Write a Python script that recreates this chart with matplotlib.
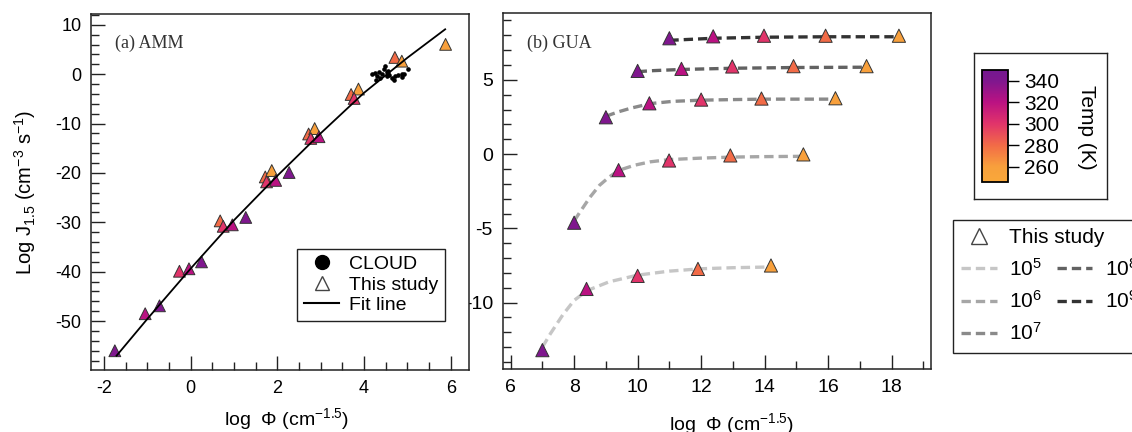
import matplotlib
matplotlib.use('Agg')
import matplotlib.pyplot as plt
from matplotlib.colors import LinearSegmentedColormap, Normalize
from matplotlib.cm import ScalarMappable
from matplotlib.lines import Line2D
from matplotlib.ticker import MultipleLocator

plt.rcParams['font.family'] = ['Liberation Sans', 'DejaVu Sans']
plt.rcParams['mathtext.fontset'] = 'custom'
plt.rcParams['mathtext.rm'] = 'Liberation Sans'
plt.rcParams['mathtext.it'] = 'Liberation Sans:italic'
plt.rcParams['mathtext.bf'] = 'Liberation Sans:bold'
plt.rcParams['axes.unicode_minus'] = False

# ---- panel (a) AMM: this study ----
amm_phi = [-1.75, -1.05, -0.72, -0.26, -0.04, 0.25, 0.68, 0.75, 0.96, 1.27,
           1.72, 1.87, 1.75, 1.96, 2.27, 2.72, 2.86, 2.77, 2.96,
           3.70, 3.87, 3.77, 4.71, 4.87, 5.88]
amm_logj = [-56.0, -48.5, -46.9, -39.9, -39.4, -38.0, -29.7, -30.8, -30.5, -29.0,
            -20.8, -19.5, -21.8, -21.5, -19.9, -12.1, -11.0, -13.0, -12.65,
            -4.1, -3.0, -4.9, 3.4, 2.65, 6.05]
amm_temp = [340, 320, 340, 300, 320, 340, 280, 300, 320, 340,
            280, 260, 300, 320, 340, 280, 260, 300, 320,
            280, 260, 300, 280, 260, 260]

# CLOUD measurements
cloud_phi = [4.18, 4.25, 4.29, 4.35, 4.41, 4.45, 4.48, 4.52, 4.55, 4.58, 4.64,
             4.70, 4.72, 4.79, 4.87, 4.91, 5.02, 4.28, 4.37, 4.56, 4.52, 4.87]
cloud_logj = [0.0, 0.27, -0.41, 0.48, 0.0, 1.16, 1.63, 0.48, 0.0, -0.2, -0.68,
              -1.22, -0.41, -0.2, -0.54, 0.0, 1.16, -1.22, -0.68, 0.68, -0.27, 0.0]

# fit line
fit_phi = [-1.71, -1.0, 0.0, 1.0, 2.0, 3.0, 4.0, 5.0, 5.87]
fit_logj = [-57.0, -49.55, -39.35, -29.55, -20.55, -11.95, -3.75, 3.35, 9.1]

# ---- panel (b) GUA ----
gua_temp = [340, 320, 300, 280, 260]

gua_phi_1e5 = [7.0, 8.39, 10.0, 11.9, 14.2]
gua_j_1e5 = [-13.2, -9.08, -8.2, -7.73, -7.5]
gua_phi_1e6 = [8.0, 9.4, 10.99, 12.92, 15.22]
gua_j_1e6 = [-4.62, -1.08, -0.43, -0.09, -0.02]
gua_phi_1e7 = [9.0, 10.37, 12.0, 13.9, 16.23]
gua_j_1e7 = [2.48, 3.42, 3.67, 3.74, 3.76]
gua_phi_1e8 = [10.0, 11.38, 12.98, 14.91, 17.21]
gua_j_1e8 = [5.6, 5.74, 5.9, 5.92, 5.92]
gua_phi_1e9 = [11.0, 12.38, 13.98, 15.92, 18.23]
gua_j_1e9 = [7.8, 7.93, 7.97, 7.97, 7.97]

# dashed fit curves
curve_phi_1e5 = [7.0, 7.25, 7.65, 8.0, 8.4, 9.1, 10.0, 11.0, 12.0, 13.0, 14.2]
curve_j_1e5 = [-13.0, -12.1, -10.8, -9.85, -9.2, -8.6, -8.15, -7.88, -7.72, -7.65, -7.6]
curve_phi_1e6 = [8.0, 8.2, 8.5, 8.8, 9.1, 9.4, 9.9, 10.4, 11.0, 12.0, 13.0, 14.0, 15.2]
curve_j_1e6 = [-4.5, -3.85, -2.9, -2.1, -1.55, -1.1, -0.75, -0.52, -0.37, -0.27, -0.2, -0.17, -0.15]
curve_phi_1e7 = [9.0, 9.4, 9.8, 10.4, 11.1, 12.0, 13.0, 14.0, 15.0, 16.2]
curve_j_1e7 = [2.55, 2.85, 3.1, 3.4, 3.55, 3.63, 3.67, 3.7, 3.7, 3.7]
curve_phi_1e8 = [10.0, 10.5, 11.4, 13.0, 15.0, 17.2]
curve_j_1e8 = [5.55, 5.62, 5.7, 5.78, 5.83, 5.85]
curve_phi_1e9 = [11.0, 12.4, 14.0, 16.0, 18.2]
curve_j_1e9 = [7.66, 7.8, 7.87, 7.9, 7.9]

series_labels = ['5', '6', '7', '8', '9']
series_grays = ['#c6c6c6', '#a6a6a6', '#8a8a8a', '#626262', '#333333']

# temperature colour scale
t_min, t_max = 246, 350
stop_temps = [246, 260, 280, 300, 320, 340, 350]
stop_colors = ['#f9a83a', '#f8a03c', '#f26b47', '#e1346a', '#bb1282', '#7f178e', '#74188f']
cmap = LinearSegmentedColormap.from_list(
    'temp', [((t - t_min) / (t_max - t_min), c) for t, c in zip(stop_temps, stop_colors)])
norm = Normalize(t_min, t_max)

W, H = 1132, 432


def px_rect(left, top, right, bottom):
    """pixel box -> figure fraction rect"""
    return [left / W, (H - bottom) / H, (right - left) / W, (bottom - top) / H]


def style_axes(ax, labelsize):
    for sp in ax.spines.values():
        sp.set_linewidth(1.1)
        sp.set_color('#222222')
    ax.tick_params(which='both', direction='in', top=False, right=False,
                   width=1.0, color='#222222', labelsize=labelsize)
    ax.tick_params(which='major', length=10, pad=7)
    ax.tick_params(which='minor', length=5.5)


fig = plt.figure(figsize=(W / 100, H / 100), dpi=100)

# ---------------- panel (a) ----------------
ax_a = fig.add_axes(px_rect(91, 14, 469, 370))
ax_a.set_zorder(3)
ax_a.scatter(amm_phi, amm_logj, c=amm_temp, cmap=cmap, norm=norm, marker='^',
             s=8.5 ** 2, edgecolors='#333333', linewidths=0.7, zorder=2)
ax_a.plot(fit_phi, fit_logj, color='black', lw=1.3, zorder=3)
ax_a.plot(cloud_phi, cloud_logj, 'o', color='black', ms=2.3, zorder=4)

ax_a.set_xlim(-2.3, 6.42)
ax_a.set_ylim(-59.9, 12.2)
ax_a.xaxis.set_major_locator(MultipleLocator(2))
ax_a.xaxis.set_minor_locator(MultipleLocator(0.5))
ax_a.yaxis.set_major_locator(MultipleLocator(10))
ax_a.yaxis.set_minor_locator(MultipleLocator(2))
style_axes(ax_a, 13)

ax_a.set_ylabel('Log J$_{1.5}$ (cm$^{-3}$ s$^{-1}$)', fontsize=14.5)
ax_a.yaxis.set_label_coords(-0.14, 0.5)
ax_a.set_xlabel('log  \u03a6 (cm$^{-1.5}$)', fontsize=14)
ax_a.xaxis.set_label_coords(0.518, -0.1)
ax_a.text(0.063, 0.918, '(a) AMM', transform=ax_a.transAxes, fontsize=13,
          family='Liberation Serif', color='#333333', va='center')

leg_a_handles = [
    Line2D([], [], marker='o', ls='none', color='black', ms=10),
    Line2D([], [], marker='^', ls='none', mfc='white', mec='#444444', ms=10, mew=1),
    Line2D([], [], color='black', lw=1.5),
]
leg_a = ax_a.legend(leg_a_handles, ['CLOUD', 'This study', 'Fit line'],
                    loc='lower right', bbox_to_anchor=(0.9365, 0.1376),
                    borderaxespad=0, fontsize=14, handlelength=1.8,
                    handletextpad=0.5, labelspacing=0.15, borderpad=0.35,
                    fancybox=False, framealpha=1, edgecolor='#222222')
leg_a.get_frame().set_linewidth(1.0)

# ---------------- panel (b) ----------------
ax_b = fig.add_axes(px_rect(502.7, 13, 931, 369))
ax_b.set_zorder(1)

gua_phi = [gua_phi_1e5, gua_phi_1e6, gua_phi_1e7, gua_phi_1e8, gua_phi_1e9]
gua_j = [gua_j_1e5, gua_j_1e6, gua_j_1e7, gua_j_1e8, gua_j_1e9]
curve_phi = [curve_phi_1e5, curve_phi_1e6, curve_phi_1e7, curve_phi_1e8, curve_phi_1e9]
curve_j = [curve_j_1e5, curve_j_1e6, curve_j_1e7, curve_j_1e8, curve_j_1e9]

line_handles = []
for cx, cy, px, py, gray in zip(curve_phi, curve_j, gua_phi, gua_j, series_grays):
    ln, = ax_b.plot(cx, cy, color=gray, lw=2.4, dashes=(2.8, 1.5), zorder=2)
    line_handles.append(ln)
    ax_b.scatter(px, py, c=gua_temp, cmap=cmap, norm=norm, marker='^',
                 s=9.5 ** 2, edgecolors='#333333', linewidths=0.7, zorder=3)

ax_b.set_xlim(5.75, 19.24)
ax_b.set_ylim(-14.47, 9.5)
ax_b.xaxis.set_major_locator(MultipleLocator(2))
ax_b.xaxis.set_minor_locator(MultipleLocator(1))
ax_b.yaxis.set_major_locator(MultipleLocator(5))
ax_b.yaxis.set_minor_locator(MultipleLocator(1))
style_axes(ax_b, 14)
ax_b.set_xlabel('log  \u03a6 (cm$^{-1.5}$)', fontsize=14)
ax_b.xaxis.set_label_coords(0.535, -0.118)
ax_b.text(0.057, 0.916, '(b) GUA', transform=ax_b.transAxes, fontsize=13,
          family='Liberation Serif', color='#333333', va='center')

# ---------------- colour bar in its own box ----------------
ax_box = fig.add_axes(px_rect(974, 53, 1107, 199))
ax_box.set_xticks([])
ax_box.set_yticks([])
for sp in ax_box.spines.values():
    sp.set_linewidth(1.0)
    sp.set_color('#222222')

cax = fig.add_axes(px_rect(982.3, 70, 1007.7, 182))
cax.set_zorder(2)
cb = fig.colorbar(ScalarMappable(norm=norm, cmap=cmap), cax=cax)
cb.set_ticks([260, 280, 300, 320, 340])
cb.outline.set_linewidth(1.3)
cax.tick_params(direction='out', length=8, width=1.0, pad=4, labelsize=15)
fig.text(1086.7 / W, 1 - 127 / H, 'Temp (K)', rotation=270, fontsize=15,
         ha='center', va='center')

# ---------------- right legend (clipped by the figure edge) ----------------
study_handle = Line2D([], [], marker='^', ls='none', mfc='white', mec='#444444',
                      ms=12, mew=1)
blank_handle = Line2D([], [], ls='none')
num_labels = ['$\\mathrm{10^{%s}}$' % s for s in series_labels]
leg_handles = [study_handle] + line_handles[:3] + [blank_handle] + line_handles[3:]
leg_labels = [' '] + num_labels[:3] + [' '] + num_labels[3:]
leg_b = fig.legend(leg_handles, leg_labels, ncol=2, loc='upper left',
                   bbox_to_anchor=(953 / W, 1 - 220 / H), bbox_transform=fig.transFigure,
                   borderaxespad=0, fontsize=15, handlelength=1.7, handletextpad=0.6,
                   columnspacing=0.7, labelspacing=0.5, borderpad=0.4,
                   fancybox=False, framealpha=1, edgecolor='#222222')
leg_b.get_frame().set_linewidth(1.0)

# "This study" spans across both columns, so place it next to its handle
fig.canvas.draw()
rend = fig.canvas.get_renderer()
bb_first = leg_b.get_texts()[0].get_window_extent(rend)
bb_col = leg_b.get_texts()[1].get_window_extent(rend)
x_txt, y_txt = fig.transFigure.inverted().transform((bb_col.x0, (bb_first.y0 + bb_first.y1) / 2))
fig.text(x_txt, y_txt, 'This study', fontsize=15, ha='left', va='center', zorder=10)

fig.savefig('out.png', dpi=100)
